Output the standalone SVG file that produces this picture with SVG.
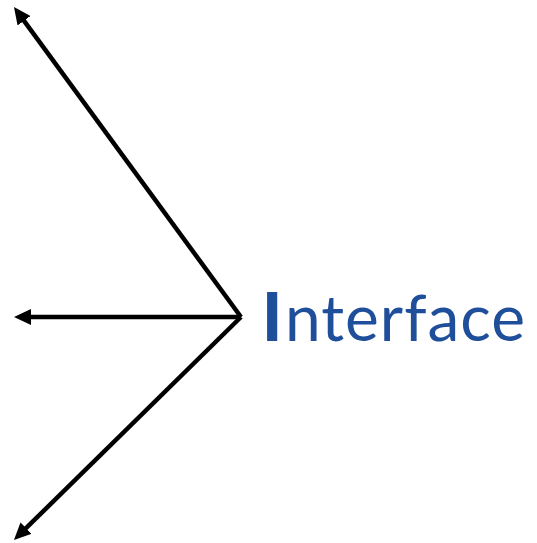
<svg xmlns="http://www.w3.org/2000/svg" width="537" height="543" viewBox="0 0 537 543">
<style>
.c{stroke:#000;stroke-width:4.5;fill:none;marker-end:url(#ah)}
.lbl{font-family:Lato,"Open Sans",sans-serif;fill:#1f4e9b;font-size:64px}
.big{font-family:Lato,"Open Sans",sans-serif;fill:#1f4e9b;font-size:67px;font-weight:900}
</style>
<defs>
<marker id="ah" markerWidth="17" markerHeight="16" refX="8" refY="8" orient="auto" markerUnits="userSpaceOnUse" viewBox="0 0 17 16">
<path d="M0,0 L17,8 L0,16 Z" fill="#000"/>
</marker>
</defs>
<g id="connectors">
<line class="c" x1="241" y1="317" x2="19.3" y2="14.3"/>
<line class="c" x1="241" y1="317" x2="23" y2="317"/>
<line class="c" x1="241" y1="317" x2="20.4" y2="533.7"/>
</g>
<g id="interface">
<text class="big" x="262" y="341">I</text>
<text class="lbl" x="285" y="341" textLength="240" lengthAdjust="spacing">nterface</text>
</g>
</svg>
